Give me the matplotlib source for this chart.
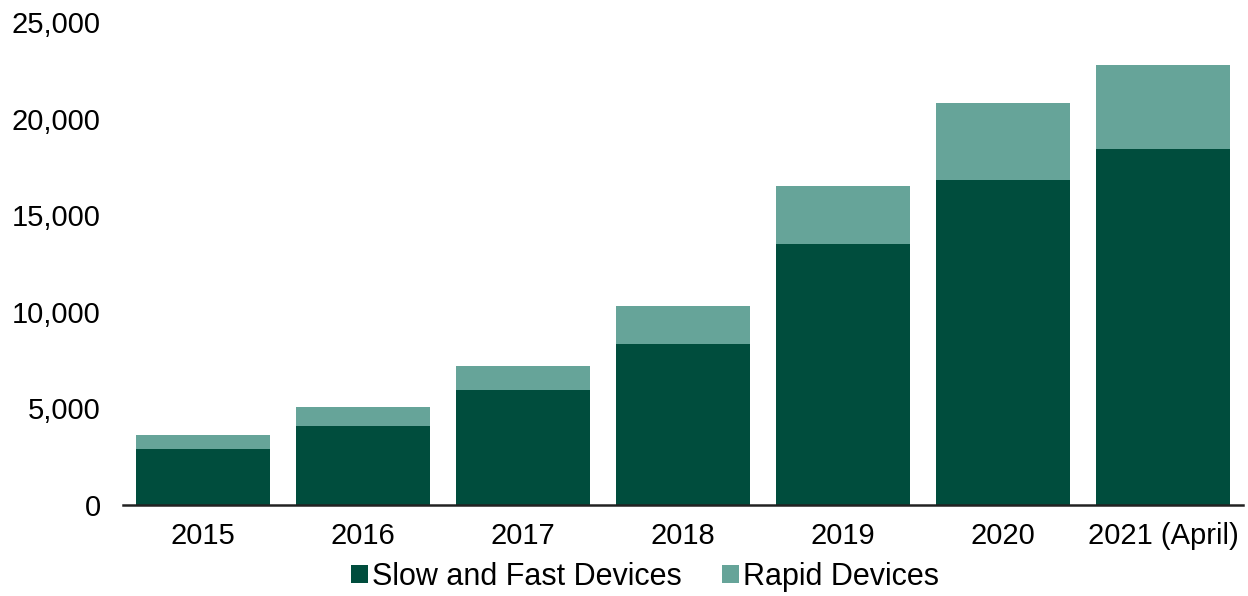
import matplotlib
matplotlib.use("Agg")
import matplotlib.pyplot as plt
from matplotlib.ticker import FuncFormatter

categories = ["2015", "2016", "2017", "2018", "2019", "2020", "2021 (April)"]
slow_fast = [2900, 4070, 5940, 8330, 13510, 16820, 18430]
rapid = [720, 1020, 1250, 1970, 3000, 3990, 4340]

plt.rcParams['font.family'] = ['Liberation Sans', 'DejaVu Sans']

fig = plt.figure(figsize=(12.48, 5.96), dpi=100)
ax = fig.add_axes([0.0986, 0.1527, 0.8974, 0.8103])

x = range(len(categories))
dark = "#004D3D"
light = "#66A499"
ax.bar(x, slow_fast, width=0.84, color=dark, label="Slow and Fast Devices")
ax.bar(x, rapid, width=0.84, bottom=slow_fast, color=light, label="Rapid Devices")

ax.set_xlim(-0.5, 6.5)
ax.set_ylim(0, 25000)
ax.set_yticks(range(0, 25001, 5000))
ax.yaxis.set_major_formatter(FuncFormatter(lambda v, p: f"{int(v):,}"))
ax.set_xticks(list(x))
ax.set_xticklabels(categories)
ax.tick_params(axis='both', length=0, labelsize=21)
ax.tick_params(axis='y', pad=16)
ax.tick_params(axis='x', pad=12)
for s in ['top', 'right', 'left']:
    ax.spines[s].set_visible(False)
ax.spines['bottom'].set_linewidth(1.8)
ax.spines['bottom'].set_color('#222222')

fig.legend(loc='center', bbox_to_anchor=(0.517, 0.032), ncol=2, frameon=False,
           fontsize=22, handlelength=0.55, handleheight=0.55, handletextpad=0.15,
           columnspacing=1.3)

fig.savefig("out.png", dpi=100)
